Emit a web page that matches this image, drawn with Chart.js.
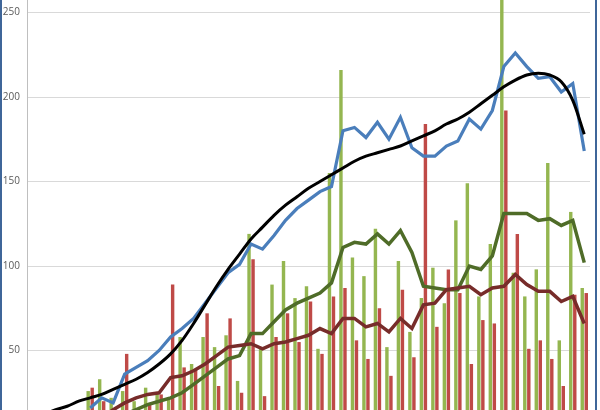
<!DOCTYPE html>
<html>
<head>
<meta charset="utf-8">
<script src="https://cdn.jsdelivr.net/npm/chart.js@4/dist/chart.umd.min.js"></script>
<style>
  html, body { margin: 0; padding: 0; background: #fff; }
  #wrap { position: relative; width: 600px; height: 410px; overflow: hidden; background: #fff; }
  #chartCanvas { position: absolute; left: 0; top: -85px; }
  .edge { position: absolute; top: 0; width: 2px; height: 410px; background: #3f6699; }
</style>
</head>
<body>
<div id="wrap">
  <canvas id="chartCanvas" width="600" height="540"></canvas>
  <div class="edge" style="left:0"></div>
  <div class="edge" style="left:595px"></div>
</div>
<script>
// categories (x axis itself is cropped out of the picture)
const labels = ['1','2','3','4','5','6','7','8','9','10','11','12','13','14','15','16','17','18','19','20',
  '21','22','23','24','25','26','27','28','29','30','31','32','33','34','35','36','37','38','39','40',
  '41','42','43','44','45','46','47','48','49'];

const yTicks = [0, 50, 100, 150, 200, 250, 300];

const greenBars = [null, null, null, null, null,
  26, 33, 22, 26, 20, 28, 25, 22, 58, 42, 58, 52, 59, 32, 119, 51, 89, 103, 81, 88, 51,
  155, 216, 105, 94, 122, 52, 103, 61, 81, 99, 78, 127, 149, 82, 113, 265, 96, 82, 98, 161, 56, 132, 87];

const redBars = [null, null, null, null, null,
  28, 20, 15, 48, 14, 19, 24, 89, 40, 39, 72, 29, 69, 25, 104, 23, 58, 72, 55, 79, 48,
  82, 87, 56, 45, 75, 35, 86, 46, 184, 64, 98, 84, 42, 68, 66, 192, 119, 51, 56, 45, 29, 83, 84];

const blueLine = [null, null, null, null, null,
  16, 22, 19, 36, 40, 44, 50, 58, 63, 69, 78, 87, 96, 101, 113, 110, 118, 127, 134, 139, 144,
  147, 180, 182, 176, 185, 175, 188, 170, 165, 165, 171, 174, 187, 181, 192, 218, 226, 218, 211, 212, 203, 208, 168];

const trendLine = [9, 12, 15, 17, 20,
  22, 24, 27, 30, 33, 37, 42, 48, 56, 66, 77, 88, 98, 107, 116, 123, 130, 136, 141, 146, 150,
  154, 158, 162, 165, 167, 169, 171, 174, 177, 180, 184, 187, 191, 196, 201, 206, 210, 213, 214, 213, 209, 198, 178];

const greenLine = [null, null, null, null, null,
  5, 7, 9, 12, 15, 18, 20, 22, 25, 30, 35, 40, 45, 47, 60, 60, 67, 74, 78, 81, 84,
  90, 111, 114, 113, 119, 113, 121, 108, 88, 87, 86, 86, 100, 98, 106, 131, 131, 131, 127, 128, 124, 127, 102];

const redLine = [null, null, null, null, null,
  6, 10, 15, 19, 22, 24, 25, 34, 35, 38, 42, 47, 52, 53, 54, 51, 54, 55, 57, 59, 63,
  60, 69, 69, 64, 66, 61, 69, 63, 77, 78, 86, 87, 88, 83, 87, 88, 95, 89, 85, 85, 79, 82, 66];

const ctx = document.getElementById('chartCanvas').getContext('2d');

new Chart(ctx, {
  type: 'bar',
  data: {
    labels: labels,
    datasets: [
      {
        type: 'line', order: 0, data: trendLine,
        borderColor: '#000000', borderWidth: 3, pointRadius: 0,
        cubicInterpolationMode: 'monotone', fill: false
      },
      {
        type: 'line', order: 1, data: blueLine,
        borderColor: '#4a7ebb', borderWidth: 3.2, pointRadius: 0,
        tension: 0, fill: false
      },
      {
        type: 'line', order: 2, data: redLine,
        borderColor: '#772c2a', borderWidth: 3.5, pointRadius: 0,
        tension: 0, fill: false
      },
      {
        type: 'line', order: 3, data: greenLine,
        borderColor: '#4f6c28', borderWidth: 3.5, pointRadius: 0,
        tension: 0, fill: false
      },
      {
        order: 4, data: greenBars,
        backgroundColor: '#94b650', borderWidth: 0,
        barPercentage: 0.85, categoryPercentage: 0.7
      },
      {
        order: 5, data: redBars,
        backgroundColor: '#bf4a47', borderWidth: 0,
        barPercentage: 0.85, categoryPercentage: 0.7
      }
    ]
  },
  options: {
    responsive: false,
    animation: false,
    layout: { padding: { left: 0, right: 10, top: 10, bottom: 20 } },
    plugins: {
      legend: { display: false },
      tooltip: { enabled: false }
    },
    scales: {
      x: { display: false, offset: true },
      y: {
        min: 0,
        max: 300,
        afterBuildTicks: (scale) => { scale.ticks = yTicks.map(v => ({ value: v })); },
        afterFit: (scale) => { scale.width = 27; },
        grid: { color: '#d9d9d9', lineWidth: 1, drawTicks: false },
        border: { color: '#bfbfbf', width: 1 },
        ticks: {
          padding: 7,
          color: '#595959',
          font: { family: 'Open Sans', size: 10 }
        }
      }
    }
  }
});
</script>
</body>
</html>
